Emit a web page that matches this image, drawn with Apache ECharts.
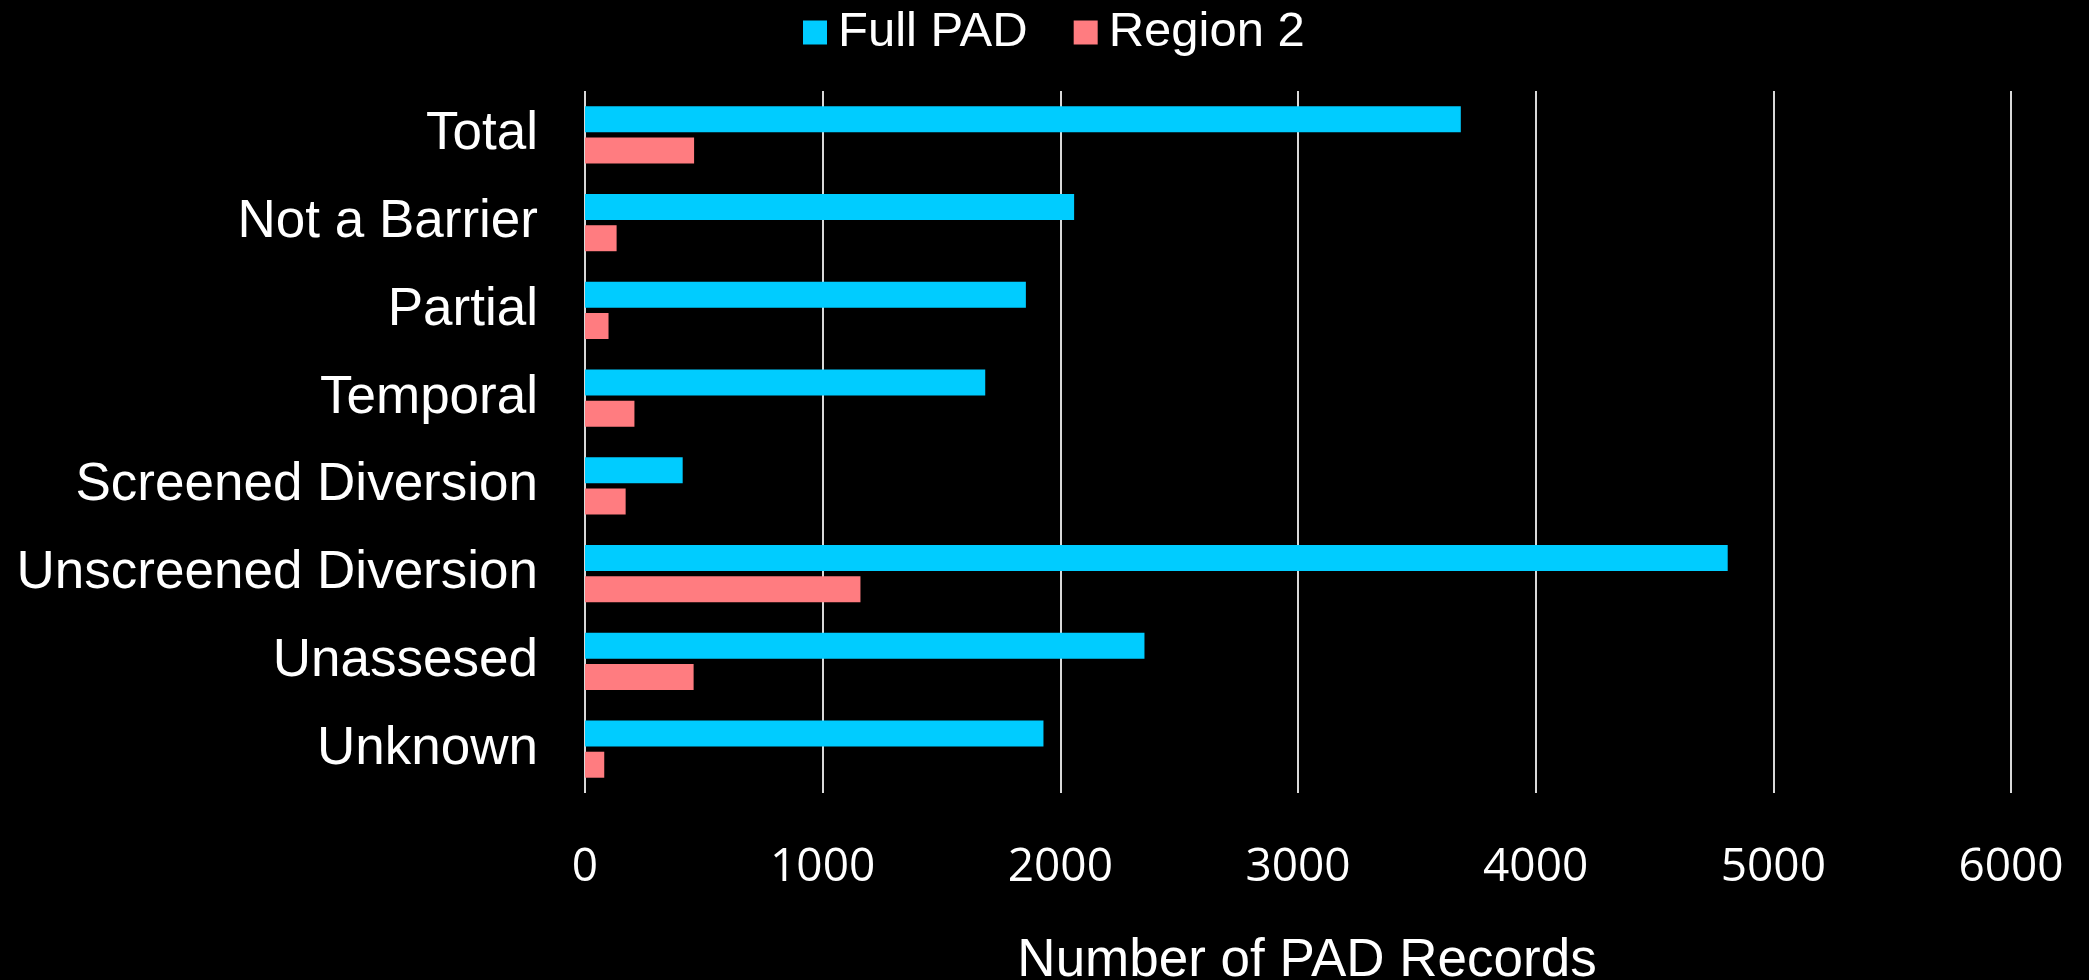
<!DOCTYPE html>
<html>
<head>
<meta charset="utf-8">
<script src="https://cdn.jsdelivr.net/npm/echarts@6/dist/echarts.min.js"></script>
<style>
html,body{margin:0;padding:0;background:#000;}
#chart{width:2089px;height:980px;}
</style>
</head>
<body>
<div id="chart"></div>
<script>
const categories = ['Total','Not a Barrier','Partial','Temporal','Screened Diversion','Unscreened Diversion','Unassesed','Unknown'];
const fullPad = [3685, 2058, 1855, 1684, 411, 4808, 2354, 1929];
const region2 = [459, 133, 99, 208, 171, 1159, 457, 81];
const xTicks = {min: 0, max: 6000, interval: 1000};
const axisTitle = 'Number of PAD Records';
const seriesNames = ['Full PAD', 'Region 2'];
const sansFont = 'Arial, "Liberation Sans", sans-serif';

const chart = echarts.init(document.getElementById('chart'));
chart.setOption({
  backgroundColor: '#000000',
  animation: false,
  legend: {
    data: seriesNames,
    left: 798,
    top: 3,
    itemWidth: 24,
    itemHeight: 24,
    itemGap: 46,
    icon: 'rect',
    textStyle: {color: '#ffffff', fontSize: 49, fontFamily: sansFont, padding: [0,0,0,6]}
  },
  grid: {left: 585, right: 78, top: 91, height: 702, containLabel: false, outerBoundsMode: 'none'},
  xAxis: {
    type: 'value',
    min: xTicks.min, max: xTicks.max, interval: xTicks.interval,
    axisLine: {show: false},
    axisTick: {show: false},
    splitLine: {show: true, lineStyle: {color: '#d9d9d9', width: 2}},
    axisLabel: {color: '#ffffff', fontSize: 46, fontFamily: '"Open Sans", sans-serif', margin: 52,
                formatter: function (v) { return String(v); }},
    name: axisTitle,
    nameLocation: 'middle',
    nameGap: 142,
    nameTextStyle: {color: '#ffffff', fontSize: 53, fontFamily: sansFont, padding: [0,0,0,18]}
  },
  yAxis: {
    type: 'category',
    data: categories,
    inverse: true,
    axisLine: {show: false},
    axisTick: {show: false},
    axisLabel: {color: '#ffffff', fontSize: 53, fontFamily: sansFont, margin: 47}
  },
  series: [
    {name: seriesNames[0], type: 'bar', data: fullPad, barWidth: 26, barGap: '20%', barCategoryGap: '35%',
     itemStyle: {color: '#00CCFF'}},
    {name: seriesNames[1], type: 'bar', data: region2, barWidth: 26, barGap: '20%', barCategoryGap: '35%',
     itemStyle: {color: '#FF7C80'}}
  ]
});
</script>
</body>
</html>
